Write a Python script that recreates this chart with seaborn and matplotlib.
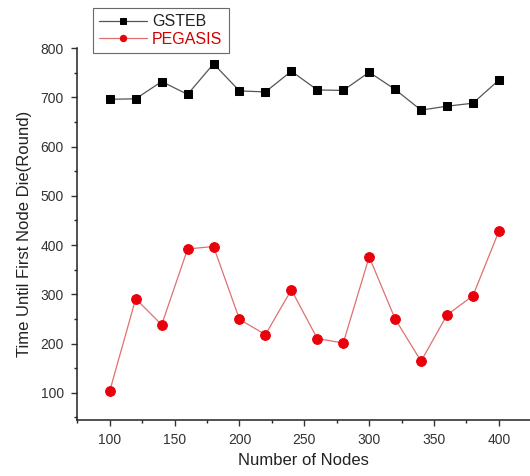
import numpy as np
import pandas as pd
import matplotlib
matplotlib.use("Agg")
import matplotlib.pyplot as plt
import seaborn as sns
from matplotlib.ticker import MultipleLocator

# Datos
nodos = [100, 120, 140, 160, 180, 200, 220, 240, 260, 280, 300, 320, 340, 360, 380, 400]
gsteb = [696, 697, 732, 706, 768, 713, 711, 753, 715, 714, 751, 716, 674, 682, 688, 735]
pegasis = [104, 291, 238, 392, 397, 249, 218, 309, 210, 201, 376, 250, 164, 258, 297, 428]

sns.set_style("ticks")
plt.rcParams['font.family'] = ['Liberation Sans', 'DejaVu Sans']

fig = plt.figure(figsize=(5.30, 4.76), dpi=100)
ax = fig.add_axes([0.145, 0.118, 0.855, 0.781])

sns.lineplot(x=nodos, y=gsteb, ax=ax, color='#555555', linewidth=0.9,
             marker='s', markersize=6, markerfacecolor='black',
             markeredgecolor='black', label='GSTEB')
sns.lineplot(x=nodos, y=pegasis, ax=ax, color='#e07070', linewidth=0.9,
             marker='o', markersize=7, markerfacecolor='#e8000b',
             markeredgecolor='#e8000b', label='PEGASIS')

ax.set_xlim(74.6, 424)
ax.set_ylim(45, 800)
ax.xaxis.set_major_locator(MultipleLocator(50))
ax.xaxis.set_minor_locator(MultipleLocator(25))
ax.yaxis.set_major_locator(MultipleLocator(100))
ax.yaxis.set_minor_locator(MultipleLocator(50))
ax.tick_params(which='major', length=4.5, width=1, labelsize=10, colors='#333333', pad=5)
ax.tick_params(which='minor', length=2.5, width=1)
ax.spines['top'].set_visible(False)
ax.spines['right'].set_visible(False)
for s in ['left', 'bottom']:
    ax.spines[s].set_linewidth(1.1)
    ax.spines[s].set_color('#222222')

ax.set_xlabel('Number of Nodes', fontsize=12, labelpad=4, color='#222222')
ax.set_ylabel('Time Until First Node Die(Round)', fontsize=12, labelpad=6, color='#222222')

leg = ax.legend(loc='upper left', bbox_to_anchor=(0.035, 1.108), frameon=True,
                fancybox=False, edgecolor='#444444', fontsize=11.5,
                borderpad=0.4, labelspacing=0.15, handlelength=3.0,
                handletextpad=0.3, markerscale=0.65, borderaxespad=0)
leg.get_frame().set_linewidth(0.8)
for t, c in zip(leg.get_texts(), ['#222222', '#d00000']):
    t.set_color(c)

fig.savefig('out.png', dpi=100)
